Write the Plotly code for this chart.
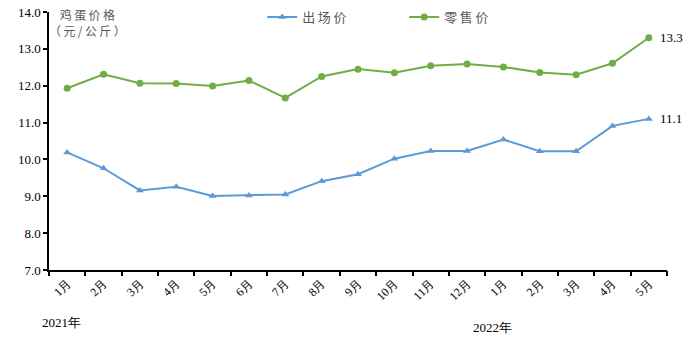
import plotly.graph_objects as go

# Monthly egg prices, Jan 2021 – May 2022 (yuan / kg)
months = ["1月", "2月", "3月", "4月", "5月", "6月", "7月", "8月", "9月", "10月",
          "11月", "12月", "1月", "2月", "3月", "4月", "5月"]
farm_price = [10.19, 9.76, 9.16, 9.26, 9.01, 9.02, 9.05, 9.41, 9.60, 10.02,
              10.23, 10.23, 10.54, 10.22, 10.22, 10.91, 11.1]
retail_price = [11.93, 12.31, 12.07, 12.06, 11.99, 12.14, 11.67, 12.25, 12.45, 12.35,
                12.54, 12.59, 12.51, 12.36, 12.30, 12.61, 13.3]
y_ticks = [7.0, 8.0, 9.0, 10.0, 11.0, 12.0, 13.0, 14.0]

BLUE = "#5b9bd5"
GREEN = "#70ad47"
SERIF = "Liberation Serif, Times New Roman, serif"
CJK = "Noto Sans CJK SC, sans-serif"
THIN = "\u2009"

xs = list(range(len(months)))

fig = go.Figure()
fig.add_trace(go.Scatter(
    x=xs, y=farm_price, name=THIN.join("出场价"), mode="lines+markers",
    line=dict(color=BLUE, width=2),
    marker=dict(symbol="triangle-up", size=7, color=BLUE),
))
fig.add_trace(go.Scatter(
    x=xs, y=retail_price, name=THIN.join("零售价"), mode="lines+markers",
    line=dict(color=GREEN, width=2),
    marker=dict(symbol="circle", size=7, color=GREEN),
))

# End-of-series value labels
for series in (farm_price, retail_price):
    fig.add_annotation(x=xs[-1], y=series[-1], text=f"{series[-1]:.1f}",
                       showarrow=False, xanchor="left", xshift=9,
                       font=dict(family=SERIF, size=13, color="#000000"))

# Y-axis title placed inside the plot's upper-left corner
fig.add_annotation(x=0, y=14.0, xref="x", yref="y",
                   text=THIN.join("鸡蛋价格") + "<br>" + THIN.join("（元/公斤）"),
                   showarrow=False,
                   xanchor="center", yanchor="top", yshift=8, xshift=20,
                   align="center",
                   font=dict(family=CJK, size=12, color="#595959"))

# Year labels under the month axis
fig.add_annotation(x=-0.17, y=-0.2016, xref="x", yref="paper", text="2021年",
                   showarrow=False, xanchor="center", yanchor="middle",
                   font=dict(family=SERIF, size=13, color="#000000"))
fig.add_annotation(x=11.71, y=-0.221, xref="x", yref="paper", text="2022年",
                   showarrow=False, xanchor="center", yanchor="middle",
                   font=dict(family=SERIF, size=13, color="#000000"))

xrange = [-0.5, len(months) - 0.5]

fig.update_layout(
    width=693, height=339,
    margin=dict(l=49, r=26, t=12, b=69, autoexpand=False),
    paper_bgcolor="white", plot_bgcolor="white",
    showlegend=True,
    legend=dict(orientation="h", x=0.345, y=0.98, xanchor="left", yanchor="middle",
                font=dict(family=CJK, size=13, color="#595959"),
                entrywidth=97, entrywidthmode="pixels",
                bgcolor="rgba(0,0,0,0)"),
    xaxis=dict(
        range=xrange, tickmode="array", tickvals=xs, ticktext=months,
        tickangle=-45, ticks="", showgrid=False, zeroline=False,
        showline=True, linecolor="#000000", linewidth=1.5,
        tickfont=dict(family=SERIF, size=12, color="#000000"),
    ),
    # Tick marks between months
    xaxis2=dict(
        overlaying="x", anchor="y", side="bottom", matches="x",
        range=xrange, tickmode="array",
        tickvals=[i - 0.5 for i in range(len(months) + 1)],
        showticklabels=False, ticks="outside", ticklen=5, tickwidth=1.5,
        tickcolor="#000000", showgrid=False, zeroline=False, showline=False,
    ),
    yaxis=dict(
        range=[7.0, 14.0], tickmode="array", tickvals=y_ticks,
        ticktext=[f"{v:.1f}" for v in y_ticks],
        ticks="outside", ticklen=4, tickwidth=1.5, tickcolor="#000000",
        showgrid=False, zeroline=False,
        showline=True, linecolor="#000000", linewidth=1.5,
        tickfont=dict(family=SERIF, size=13, color="#000000"),
    ),
)

# Invisible trace so the tick-mark axis is drawn
fig.add_trace(go.Scatter(x=[xrange[0]], y=[7.0], xaxis="x2", mode="markers",
                         marker=dict(opacity=0), showlegend=False, hoverinfo="skip"))

fig.write_html("out.html")
